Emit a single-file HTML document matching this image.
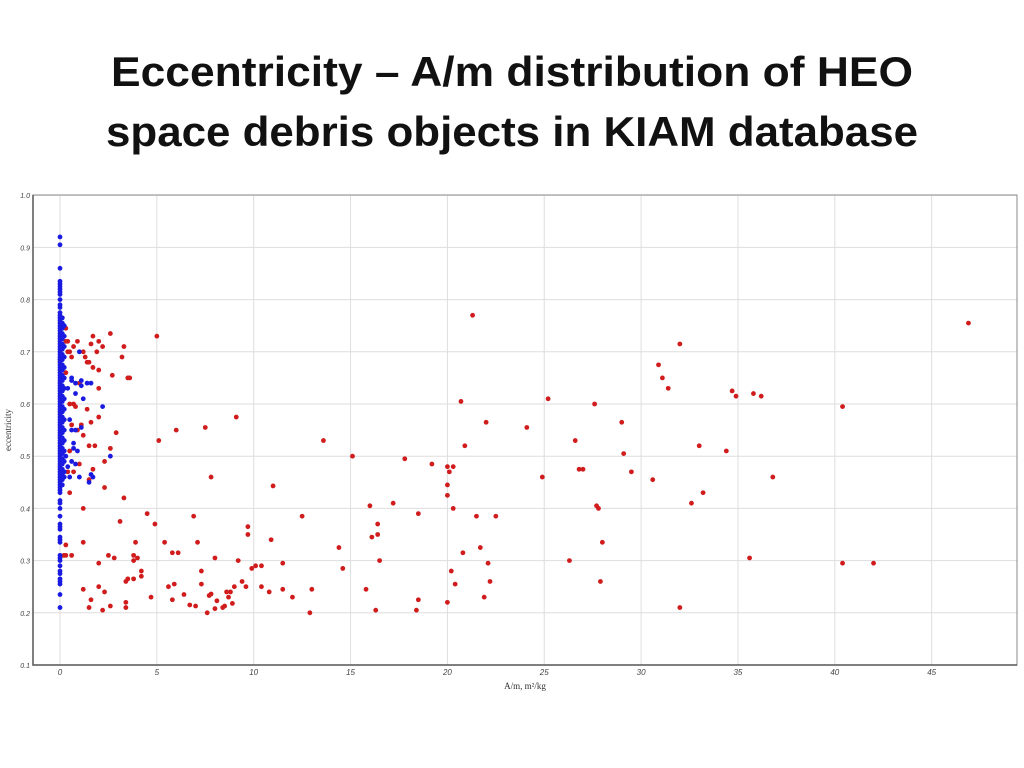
<!DOCTYPE html>
<html><head><meta charset="utf-8"><style>
html,body{margin:0;padding:0;background:#fff;}
svg{display:block;}
</style></head><body>
<svg id="chart" width="1024" height="768" xmlns="http://www.w3.org/2000/svg">
<text x="512" y="86" text-anchor="middle" font-family="Liberation Sans, sans-serif" font-weight="bold" font-size="42" fill="#111" textLength="802" lengthAdjust="spacingAndGlyphs">Eccentricity – A/m distribution of HEO</text>
<text x="512" y="146" text-anchor="middle" font-family="Liberation Sans, sans-serif" font-weight="bold" font-size="42" fill="#111" textLength="812" lengthAdjust="spacingAndGlyphs">space debris objects in KIAM database</text>
<g id="grid"></g>
<g id="marks"></g>
<g id="axes"></g>
<text transform="translate(11,430) rotate(-90)" text-anchor="middle" font-family="Liberation Serif, serif" font-size="9" fill="#333">eccentricity</text>
<text x="525" y="689" text-anchor="middle" font-family="Liberation Serif, serif" font-size="9" fill="#333">A/m, m²/kg</text>
</svg>
<script>
const xTicks=[0,5,10,15,20,25,30,35,40,45];
const yTicks=[0.1,0.2,0.3,0.4,0.5,0.6,0.7,0.8,0.9,1.0];
const redPoints=[
[5.0,0.73],[3.3,0.71],[3.2,0.69],[3.5,0.65],[3.6,0.65],[2.6,0.735],[1.7,0.73],[1.9,0.70],[2.2,0.71],[2.0,0.72],
[1.6,0.715],[1.5,0.68],[1.7,0.67],[1.4,0.68],[1.2,0.70],[0.9,0.72],[0.7,0.71],[0.5,0.70],[2.7,0.655],[2.0,0.665],
[1.3,0.69],[0.6,0.69],[2.0,0.63],[1.0,0.64],[0.4,0.72],[0.3,0.72],[1.8,0.52],[2.0,0.575],[0.8,0.595],[1.4,0.59],
[0.5,0.60],[0.7,0.60],[1.6,0.565],[1.2,0.54],[0.9,0.55],[2.9,0.545],[2.6,0.515],[2.3,0.49],[1.5,0.52],[1.0,0.485],
[0.5,0.51],[0.6,0.56],[1.1,0.56],[0.7,0.47],[0.4,0.47],[1.7,0.475],[1.5,0.455],[2.3,0.44],[0.5,0.43],[1.2,0.40],
[3.3,0.42],[4.5,0.39],[3.1,0.375],[4.9,0.37],[6.9,0.385],[7.8,0.46],[9.1,0.575],[7.5,0.555],[6.0,0.55],[5.1,0.53],
[1.2,0.335],[3.9,0.335],[5.4,0.335],[7.1,0.335],[9.7,0.365],[9.7,0.35],[0.3,0.33],[0.2,0.31],[0.3,0.31],[0.6,0.31],
[2.5,0.31],[2.8,0.305],[3.8,0.30],[4.0,0.305],[3.8,0.31],[5.8,0.315],[6.1,0.315],[8.0,0.305],[7.3,0.28],[9.2,0.30],
[2.0,0.295],[1.2,0.245],[2.0,0.25],[2.3,0.24],[1.6,0.225],[1.5,0.21],[2.2,0.205],[2.6,0.213],[3.4,0.21],[3.4,0.22],
[3.4,0.26],[3.5,0.265],[3.8,0.265],[4.2,0.27],[4.2,0.28],[4.7,0.23],[5.6,0.25],[5.8,0.225],[5.9,0.255],[6.4,0.235],
[6.7,0.215],[7.0,0.213],[7.3,0.255],[7.6,0.20],[7.7,0.233],[7.8,0.236],[8.1,0.223],[8.0,0.208],[8.4,0.21],[8.5,0.213],
[8.6,0.24],[8.7,0.23],[8.8,0.24],[8.9,0.218],[9.0,0.25],[9.4,0.26],[9.6,0.25],[9.9,0.285],[10.1,0.29],[10.4,0.25],
[10.4,0.29],[11.0,0.443],[10.9,0.34],[10.8,0.24],[11.5,0.295],[11.5,0.245],[12.0,0.23],[12.5,0.385],[13.0,0.245],[12.9,0.20],
[13.6,0.53],[14.4,0.325],[14.6,0.285],[15.1,0.50],[15.8,0.245],[16.0,0.405],[16.1,0.345],[16.4,0.37],[16.4,0.35],[16.3,0.205],
[16.5,0.30],[17.2,0.41],[17.8,0.495],[18.5,0.225],[18.4,0.205],[18.5,0.39],[19.2,0.485],[20.0,0.48],[20.1,0.47],[20.0,0.445],
[20.0,0.425],[20.3,0.48],[20.3,0.40],[20.2,0.28],[20.0,0.22],[20.4,0.255],[20.7,0.605],[20.8,0.315],[20.9,0.52],[21.3,0.77],
[21.5,0.385],[21.7,0.325],[21.9,0.23],[22.0,0.565],[22.1,0.295],[22.2,0.26],[22.5,0.385],[24.1,0.555],[24.9,0.46],[25.2,0.61],
[26.3,0.30],[26.6,0.53],[26.8,0.475],[27.0,0.475],[27.6,0.60],[27.7,0.405],[27.8,0.40],[28.0,0.335],[27.9,0.26],[29.0,0.565],
[29.1,0.505],[29.5,0.47],[30.6,0.455],[30.9,0.675],[31.1,0.65],[31.4,0.63],[32.0,0.715],[32.0,0.21],[32.6,0.41],[33.0,0.52],
[33.2,0.43],[34.4,0.51],[34.7,0.625],[34.9,0.615],[35.6,0.305],[35.8,0.62],[36.2,0.615],[36.8,0.46],[40.4,0.295],[40.4,0.595],
[42.0,0.295],[46.9,0.755],[0.0,0.685],[0.1,0.635],[0.3,0.745],[0.2,0.75],[0.4,0.70],[0.3,0.66]
];
const blueColE=[0.92,0.905,0.86,0.835,0.83,0.825,0.82,0.815,0.81,0.80,0.79,0.785,0.775,0.77,0.765,0.76,0.755,0.75,0.745,0.74,0.735,0.73,0.725,0.72,0.715,0.71,0.705,0.70,0.695,0.69,0.685,0.68,0.675,0.67,0.665,0.66,0.655,0.65,0.645,0.64,0.635,0.63,0.625,0.62,0.615,0.61,0.605,0.60,0.595,0.59,0.585,0.58,0.575,0.57,0.565,0.56,0.555,0.55,0.545,0.54,0.535,0.53,0.525,0.52,0.515,0.51,0.505,0.50,0.495,0.49,0.485,0.48,0.475,0.47,0.465,0.46,0.455,0.45,0.445,0.44,0.435,0.43,0.415,0.41,0.40,0.385,0.37,0.365,0.36,0.345,0.34,0.335,0.31,0.305,0.30,0.29,0.28,0.275,0.265,0.26,0.255,0.235,0.21];
const blueCol2E=[0.765,0.755,0.745,0.735,0.725,0.715,0.705,0.695,0.685,0.675,0.665,0.655,0.645,0.635,0.625,0.615,0.605,0.595,0.585,0.575,0.565,0.555,0.545,0.535,0.525,0.515,0.505,0.495,0.485,0.475,0.465,0.455,0.445];
const blueCol3E=[0.75,0.73,0.71,0.69,0.67,0.65,0.63,0.61,0.59,0.57,0.55,0.53,0.51,0.49,0.47,0.46];
const bluePoints=[[1.0,0.70],[0.6,0.645],[0.8,0.64],[1.1,0.645],[1.1,0.635],[1.4,0.64],[1.6,0.64],[1.2,0.61],[2.2,0.595],[0.8,0.62],
[0.5,0.57],[0.6,0.55],[0.8,0.55],[1.1,0.555],[0.7,0.525],[0.7,0.515],[0.9,0.51],[2.6,0.50],[0.8,0.485],[0.6,0.49],
[1.0,0.46],[1.6,0.465],[1.7,0.46],[1.5,0.45],[0.4,0.48],[0.5,0.46],[0.3,0.50],[0.4,0.63],[0.6,0.65]];

const X0=60,PXU=19.37,Y0=665,PYU=522;
function sx(v){return X0+v*PXU;}
function sy(v){return Y0-(v-0.1)*PYU;}
const NS='http://www.w3.org/2000/svg';
function mk(t,a,p){const e=document.createElementNS(NS,t);for(const k in a)e.setAttribute(k,a[k]);p.appendChild(e);return e;}
const grid=document.getElementById('grid'),axes=document.getElementById('axes'),marks=document.getElementById('marks');
const L=33,R=1017,T=195,B=665;
xTicks.forEach(t=>{
 const l=mk('line',{x1:sx(t),x2:sx(t),y1:T,y2:B,stroke:'#dedede','stroke-width':1},grid);
 
 
 const tx=mk('text',{x:sx(t),y:675,'text-anchor':'middle','font-family':'Liberation Sans, sans-serif','font-size':8,'font-style':'italic',fill:'#444'},axes);
 tx.textContent=t;
 
 
});
yTicks.forEach(t=>{
 const l=mk('line',{x1:L,x2:R,y1:sy(t),y2:sy(t),stroke:'#dedede','stroke-width':1},grid);
 
 
 const tx=mk('text',{x:30,y:sy(t)+3,'text-anchor':'end','font-family':'Liberation Sans, sans-serif','font-size':7,'font-style':'italic',fill:'#444'},axes);
 tx.textContent=t.toFixed(1);
 
 
});
const fr=mk('rect',{x:L,y:T,width:R-L,height:B-T,fill:'none',stroke:'#888','stroke-width':1},axes);


const ax=mk('path',{d:`M${L},${T} L${L},${B} L${R},${B}`,fill:'none',stroke:'#555','stroke-width':1.5},axes);


function dot(x,e,c,name){
 const d=mk('circle',{cx:sx(x),cy:sy(e),r:2.4,fill:c},marks);
 
 
}
redPoints.forEach(p=>dot(p[0],p[1],'#d01c1c','red-point'));
blueColE.forEach(e=>dot(0.0,e,'#1a1ae0','blue-point'));
blueCol2E.forEach(e=>dot(0.12,e,'#1a1ae0','blue-point'));
blueCol3E.forEach(e=>dot(0.22,e,'#1a1ae0','blue-point'));
bluePoints.forEach(p=>dot(p[0],p[1],'#1a1ae0','blue-point'));
</script>
</body></html>
